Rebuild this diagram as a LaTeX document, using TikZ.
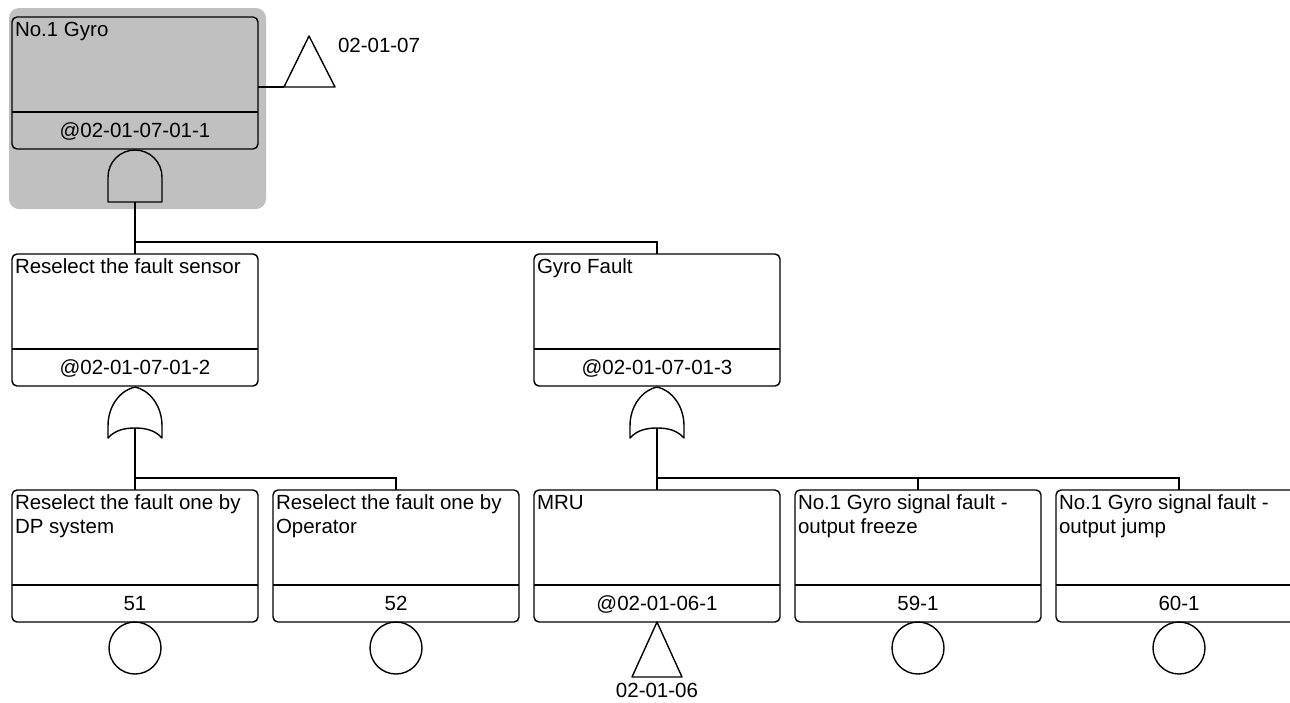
\documentclass[tikz,border=0pt]{standalone}
\usepackage{fontspec}
\setmainfont{Liberation Sans}
\usetikzlibrary{calc}
\definecolor{selgray}{RGB}{192,192,192}
\tikzset{
  box/.style={draw, rounded corners=5pt, line width=1.4pt, minimum width=246pt, minimum height=132pt, inner sep=0pt, outer sep=0pt, anchor=north west},
  ttl/.style={anchor=north west, inner sep=0pt, outer sep=0pt, font=\fontsize{20.5}{24}\selectfont, align=left},
  lbl/.style={anchor=base, inner sep=0pt, outer sep=0pt, font=\fontsize{20.5}{24}\selectfont},
  wire/.style={line width=1.4pt},
  gate/.style={line width=1.4pt, line join=round},
}
\newcommand\ftbox[5]{%
  \node[box] (#1) at (#2,#3) {};
  \draw[wire] ($(#1.south west)+(0,-37)$) -- ($(#1.south east)+(0,-37)$);
  \node[ttl] (#1t) at ($(#1.north west)+(3,5)$) {#4};
  \node[lbl] (#1i) at ($(#1.south)+(0,-12)$) {#5};
}
\begin{document}
\begin{tikzpicture}[x=1pt,y=-1pt]
\useasboundingbox (0,0) rectangle (1290,702);
\clip (0,0) rectangle (1290,702);
% selection background
\fill[selgray, rounded corners=10pt] (9,8) rectangle (266,209);
% boxes
\ftbox{g0}{12}{17}{No.1 Gyro}{@02-01-07-01-1}
\ftbox{b1}{12}{254}{Reselect the fault sensor}{@02-01-07-01-2}
\ftbox{b2}{534}{254}{Gyro Fault}{@02-01-07-01-3}
\ftbox{c1}{12}{490}{Reselect the fault one by\\DP system}{51}
\ftbox{c2}{273}{490}{Reselect the fault one by\\Operator}{52}
\ftbox{c3}{534}{490}{MRU}{@02-01-06-1}
\ftbox{c4}{795}{490}{No.1 Gyro signal fault -\\output freeze}{59-1}
\ftbox{c5}{1056}{490}{No.1 Gyro signal fault -\\output jump}{60-1}
% transfer triangle 02-01-07
\coordinate (t1l) at (284,87);
\coordinate (t1r) at (335,87);
\coordinate (t1a) at (309,36);
\draw[gate] (t1l) -- (t1a) -- (t1r) -- cycle;
\draw[wire] (t1l -| g0.east) -- (t1l);
\node[lbl, anchor=base west] (t1lab) at (338,52) {02-01-07};
% AND gate under g0
\coordinate (and0) at (135,202);
\draw[gate] (108,202) -- (108,177) arc[start angle=180, end angle=0, radius=27pt] -- (162,202) -- cycle;
\draw[wire] (and0) -- (b1.north);
\draw[wire] (and0) |- ($(b2.north)+(0,-12)$) -- (b2.north);
% OR gate under b1
\coordinate (or1) at (135,428);
\draw[gate] (108,438) -- (108,426) .. controls (108,405) and (121,390) .. (135,387)
  .. controls (149,390) and (162,405) .. (162,426) -- (162,438)
  .. controls (155,430) and (145,428) .. (135,428)
  .. controls (125,428) and (115,430) .. (108,438) -- cycle;
\draw[wire] (or1) -- (c1.north);
\draw[wire] ($(c1.north)+(0,-12)$) -| (c2.north);
% OR gate under b2
\coordinate (or2) at (657,428);
\draw[gate] (630,438) -- (630,426) .. controls (630,405) and (643,390) .. (657,387)
  .. controls (671,390) and (684,405) .. (684,426) -- (684,438)
  .. controls (677,430) and (667,428) .. (657,428)
  .. controls (647,428) and (637,430) .. (630,438) -- cycle;
\draw[wire] (or2) -- (c3.north);
\draw[wire] ($(c3.north)+(0,-12)$) -| (c4.north);
\draw[wire] ($(c4.north)+(0,-12)$) -| (c5.north);
% basic events
\draw[gate] ($(c1.south)+(0,26)$) circle[radius=26pt];
\draw[gate] ($(c2.south)+(0,26)$) circle[radius=26pt];
\draw[gate] ($(c4.south)+(0,26)$) circle[radius=26pt];
\draw[gate] ($(c5.south)+(0,26)$) circle[radius=26pt];
% transfer triangle 02-01-06
\coordinate (t2l) at (632,677);
\coordinate (t2r) at (682,677);
\draw[gate] (c3.south) -- (t2r) -- (t2l) -- cycle;
\node[lbl] (t2lab) at (657,697) {02-01-06};
\end{tikzpicture}
\end{document}
